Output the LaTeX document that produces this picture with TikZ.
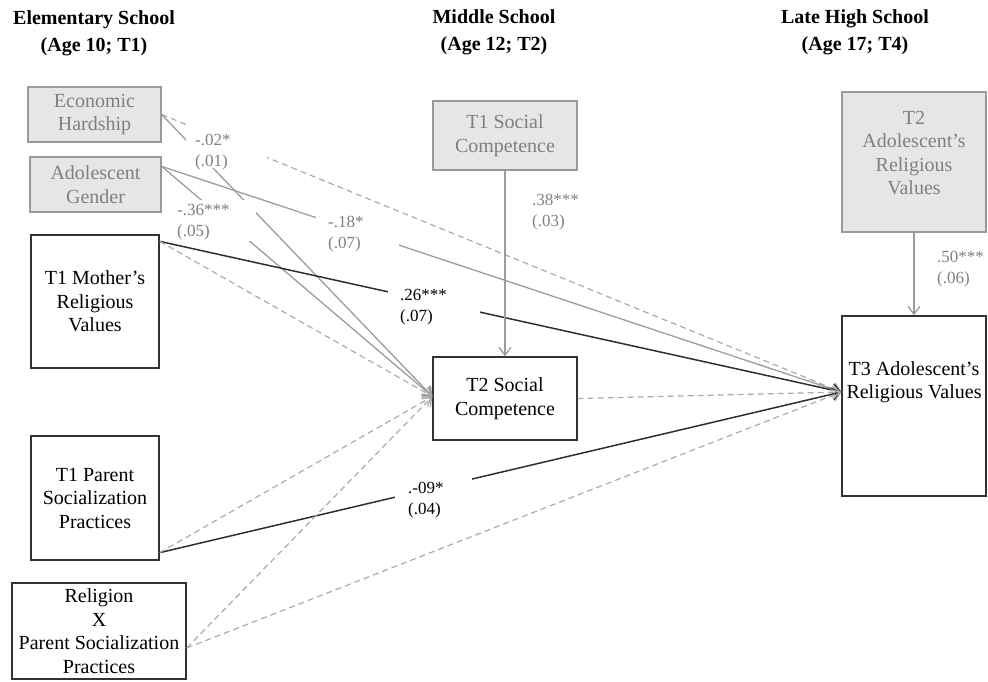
\documentclass[tikz,border=0pt]{standalone}
\usepackage{fontspec}
\setmainfont{Liberation Serif}
\usetikzlibrary{arrows.meta}
\definecolor{gline}{HTML}{9C9C9C}
\definecolor{dline}{HTML}{ABABAB}
\definecolor{bline}{HTML}{2E2E2E}
\definecolor{gfill}{HTML}{E6E6E6}
\definecolor{gborder}{HTML}{9A9A9A}
\definecolor{gtext}{HTML}{808080}
\definecolor{boxdark}{HTML}{333333}
\begin{document}
\begin{tikzpicture}[x=1pt,y=-1pt,
  box/.style={draw=boxdark, line width=1.3pt, fill=white, inner sep=0pt, align=center,
    font=\fontsize{20}{23.5}\selectfont, text=black},
  gbox/.style={box, draw=gborder, fill=gfill, text=gtext},
  txt/.style={inner sep=0pt, align=center, font=\fontsize{20}{23.5}\selectfont},
  hdr/.style={inner sep=0pt, align=center, font=\fontsize{20}{27}\selectfont\bfseries},
  coef/.style={inner sep=0pt, anchor=west, align=left, font=\fontsize{17}{21}\selectfont},
  gcoef/.style={coef, text=gtext},
  tip/.style={-{Straight Barb[length=8pt,width=12pt,line width=1.3pt]}},
  sol/.style={draw=gline, line width=1.3pt, tip},
  blk/.style={draw=bline, line width=1.5pt, tip},
  dsh/.style={draw=dline, line width=1.2pt, dash pattern=on 6pt off 4pt, tip},
  mask/.style={fill=white, draw=none}
]
\useasboundingbox (0,0) rectangle (988,681);

% headers
\node[hdr] (h1) at (94,33.5) {Elementary School\\(Age 10; T1)};
\node[hdr] (h2) at (494,32.5) {Middle School\\(Age 12; T2)};
\node[hdr] (h3) at (855,32.5) {Late High School\\(Age 17; T4)};

% boxes
\node[gbox, minimum width=133, minimum height=55] (econ) at (94.5,114.5) {Economic\\Hardship};
\node[gbox, minimum width=131, minimum height=55] (gender) at (95.5,184.5) {Adolescent\\Gender};
\node[box, minimum width=128, minimum height=133] (mother) at (95,301.5) {T1 Mother’s\\Religious\\Values};
\node[box, minimum width=128, minimum height=124] (parent) at (95,498) {T1 Parent\\Socialization\\Practices};
\node[box, minimum width=174, minimum height=96] (relig) at (99,631) {Religion\\X\\Parent Socialization\\Practices};
\node[gbox, minimum width=144, minimum height=69] (sc1) at (505,135.5) {T1 Social\\Competence};
\node[box, minimum width=144, minimum height=83] (sc2) at (505,398.5) {T2 Social\\Competence};
\node[gbox, minimum width=144, minimum height=140, text height=0pt] (rv2) at (914,162) {};
\node[txt, text=gtext] (rv2t) at (914,153) {T2\\Adolescent’s\\Religious\\Values};
\node[box, minimum width=144, minimum height=180] (t3) at (914,406) {};
\node[txt] (t3t) at (914,382) {T3 Adolescent’s\\Religious Values};

% named end points
\coordinate (sIn) at ([yshift=2pt]sc2.west);
\coordinate (tIn) at ([yshift=14pt]t3.west);
\coordinate (gOut) at ([yshift=-10pt]gender.north east);
\coordinate (mOut) at ([yshift=-7pt]mother.north east);
\coordinate (pOut) at ([yshift=8pt]parent.south east);
\coordinate (rOut) at ([yshift=-17pt]relig.east);

% connectors
\draw[dsh] (econ.east) -- (tIn);
\draw[sol] (econ.east) -- (sIn);
\draw[sol] (gOut) -- (sIn);
\draw[sol] (gOut) -- (tIn);
\draw[blk] (mOut) -- (tIn);
\draw[dsh] (mOut) -- (sIn);
\draw[blk] (pOut) -- (tIn);
\draw[dsh] (pOut) -- (sIn);
\draw[dsh] (rOut) -- (sIn);
\draw[dsh] (rOut) -- (tIn);
\draw[dsh] (sc2.east) -- (tIn);
\draw[sol] (sc1.south) -- (sc2.north);
\draw[sol] (rv2.south) -- (t3.north);

% label masks
\fill[mask] (186,125) rectangle (267,168);
\fill[mask] (170,200) rectangle (256,241);
\fill[mask] (316,212) rectangle (399,252);
\fill[mask] (388,283) rectangle (480,330);
\fill[mask] (395,476) rectangle (472,522);

% coefficients
\node[gcoef] (c1) at (195,152) {-.02*\\(.01)};
\node[gcoef] (c2) at (177,222) {-.36***\\(.05)};
\node[gcoef] (c3) at (328,234) {-.18*\\(.07)};
\node[coef] (c4) at (400,307) {.26***\\(.07)};
\node[coef] (c5) at (408,500) {.-09*\\(.04)};
\node[gcoef] (c6) at (532,212) {.38***\\(.03)};
\node[gcoef] (c7) at (937,269) {.50***\\(.06)};
\end{tikzpicture}
\end{document}
